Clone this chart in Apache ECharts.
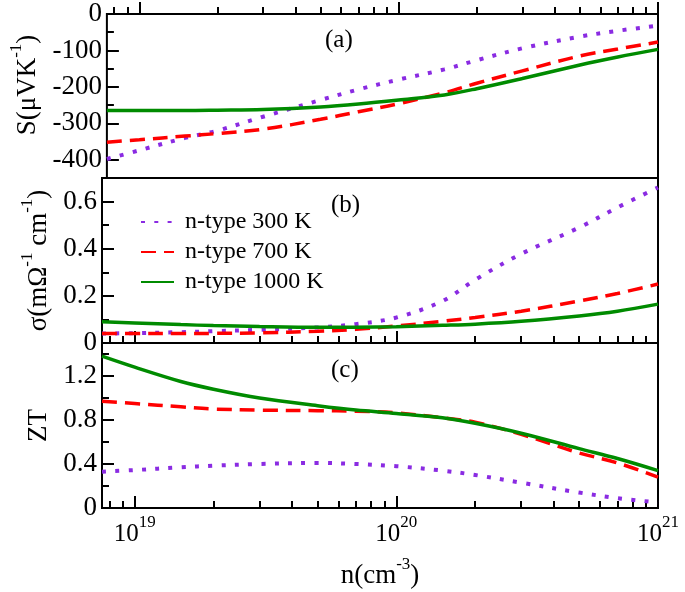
<!DOCTYPE html>
<html>
<head>
<meta charset="utf-8">
<script src="https://cdn.jsdelivr.net/npm/echarts@6/dist/echarts.min.js"></script>
<style>html,body{margin:0;padding:0;background:#fff}#c{width:685px;height:592px}</style>
</head>
<body>
<div id="c"></div>
<script>
// carrier concentration n (cm^-3)
const nValues = [7.5e18, 1e19, 1.5e19, 2e19, 3e19, 5e19, 7e19, 1e20, 1.5e20, 2e20, 3e20, 5e20, 7e20, 1e21];
const seriesNames = ['n-type 300 K', 'n-type 700 K', 'n-type 1000 K'];
// (a) Seebeck coefficient S (uV/K)
const S300  = [-398, -374, -340, -320, -282, -236, -207, -180, -152, -127, -94, -62, -46, -32];
const S700  = [-352, -345, -335, -328, -316, -289, -268, -246, -216, -190, -156, -115, -96, -77];
const S1000 = [-265, -265, -265, -264, -262, -255, -247, -236, -222, -205, -177, -140, -118, -97];
// (b) electrical conductivity sigma
const sig300  = [0.040, 0.042, 0.046, 0.050, 0.056, 0.066, 0.080, 0.108, 0.178, 0.268, 0.378, 0.490, 0.575, 0.660];
const sig700  = [0.040, 0.040, 0.040, 0.041, 0.043, 0.050, 0.058, 0.072, 0.092, 0.108, 0.135, 0.178, 0.210, 0.250];
const sig1000 = [0.090, 0.085, 0.078, 0.074, 0.070, 0.067, 0.067, 0.069, 0.075, 0.080, 0.092, 0.115, 0.135, 0.165];
// (c) figure of merit ZT
const ZT300  = [0.33, 0.345, 0.37, 0.385, 0.40, 0.41, 0.40, 0.38, 0.34, 0.30, 0.23, 0.14, 0.09, 0.05];
const ZT700  = [0.97, 0.95, 0.92, 0.90, 0.89, 0.885, 0.88, 0.865, 0.82, 0.78, 0.67, 0.50, 0.41, 0.28];
const ZT1000 = [1.38, 1.28, 1.15, 1.08, 1.00, 0.93, 0.89, 0.86, 0.82, 0.77, 0.68, 0.54, 0.45, 0.34];

// axis ranges and ticks
const xRange = [7.5e18, 1e21];
const xMajorTicks = [1e19, 1e20, 1e21];
const xMinorTicks = [8e18, 9e18, 2e19, 3e19, 4e19, 5e19, 6e19, 7e19, 8e19, 9e19, 2e20, 3e20, 4e20, 5e20, 6e20, 7e20, 8e20, 9e20];
const yRangeA = [-450, 0], yMajorA = [-400, -300, -200, -100, 0], yMinorA = [-350, -250, -150, -50];
const yRangeB = [0, 0.7],  yMajorB = [0, 0.2, 0.4, 0.6],         yMinorB = [0.1, 0.3, 0.5];
const yRangeC = [0, 1.5],  yMajorC = [0, 0.4, 0.8, 1.2],         yMinorC = [0.2, 0.6, 1.0, 1.4];

const FONT = 'Liberation Serif';
const colors = ['#8a2be2', '#ff0000', '#008b00'];
const lineStyles = [
  {width: 4, type: [4, 9.3], cap: 'butt'},
  {width: 3.5, type: [15, 8], cap: 'butt'},
  {width: 3.5, type: 'solid'}
];
const lg = Math.log10;

const grids = [
  {left: 102, top: 14, width: 556, height: 164},
  {left: 102, top: 178, width: 556, height: 165},
  {left: 102, top: 343, width: 556, height: 165}
].map(g => Object.assign(g, {show: true, borderColor: '#000', borderWidth: 2, backgroundColor: 'transparent'}));

const richTick = {
  b: {fontFamily: FONT, fontSize: 25, lineHeight: 40, color: '#000'},
  s: {fontFamily: FONT, fontSize: 17, lineHeight: 14, verticalAlign: 'top', color: '#000'}
};
const richTitle = {
  b: {fontFamily: FONT, fontSize: 27, lineHeight: 40, color: '#000'},
  s: {fontFamily: FONT, fontSize: 17, lineHeight: 14, verticalAlign: 'top', color: '#000'}
};

const xAxes = [], yAxes = [];
for (let i = 0; i < 3; i++) {
  const isBottom = i === 2;
  xAxes.push({
    type: 'value', gridIndex: i, position: 'bottom', min: lg(xRange[0]), max: lg(xRange[1]),
    axisLine: {show: false}, splitLine: {show: false},
    axisTick: {show: true, inside: true, length: 12, lineStyle: {width: 2, color: '#000'}, customValues: xMajorTicks.map(lg)},
    axisLabel: {show: isBottom, margin: 6, customValues: xMajorTicks.map(lg),
      formatter: v => '{b|10}{s|' + Math.round(v) + '}', rich: richTick},
    name: isBottom ? '{b|n(cm}{s|-3}{b|)}' : '', nameLocation: 'middle', nameGap: 48,
    nameTextStyle: {rich: richTitle}
  });
  xAxes.push({
    type: 'value', gridIndex: i, position: 'bottom', min: lg(xRange[0]), max: lg(xRange[1]),
    axisLine: {show: false}, splitLine: {show: false}, axisLabel: {show: false},
    axisTick: {show: true, inside: true, length: 7, lineStyle: {width: 2, color: '#000'}, customValues: xMinorTicks.map(lg)}
  });
}
const yDefs = [
  [yRangeA, yMajorA, yMinorA, '{b|S(μVK}{s|-1}{b|)}', 57, [0, 0, 0, 22]],
  [yRangeB, yMajorB, yMinorB, '{b|σ(mΩ}{s|-1}{b| cm}{s|-1}{b|)}', 41, [0, 0, 0, 0]],
  [yRangeC, yMajorC, yMinorC, '{b|ZT}', 36, [0, 0, 0, 0]]
];
yDefs.forEach((d, i) => {
  yAxes.push({
    type: 'value', gridIndex: i, position: 'left', min: d[0][0], max: d[0][1],
    axisLine: {show: false}, splitLine: {show: false},
    axisTick: {show: true, inside: true, length: 12, lineStyle: {width: 2, color: '#000'}, customValues: d[1]},
    axisLabel: {show: true, margin: 5, customValues: d[1], fontFamily: FONT, fontSize: 27, color: '#000',
      formatter: v => String(v)},
    name: d[3], nameLocation: 'middle', nameGap: d[4],
    nameTextStyle: {rich: richTitle, padding: d[5]}
  });
  yAxes.push({
    type: 'value', gridIndex: i, position: 'left', min: d[0][0], max: d[0][1],
    axisLine: {show: false}, splitLine: {show: false}, axisLabel: {show: false},
    axisTick: {show: true, inside: true, length: 7, lineStyle: {width: 2, color: '#000'}, customValues: d[2]}
  });
});

const panelData = [[S300, S700, S1000], [sig300, sig700, sig1000], [ZT300, ZT700, ZT1000]];
const series = [];
panelData.forEach((set, p) => {
  set.forEach((vals, k) => {
    series.push({
      type: 'line', name: seriesNames[k], xAxisIndex: 2 * p, yAxisIndex: 2 * p,
      data: nValues.map((n, j) => [lg(n), vals[j]]),
      smooth: 0.35, symbol: 'none', showSymbol: false, clip: true,
      lineStyle: Object.assign({color: colors[k]}, lineStyles[k]),
      itemStyle: {color: colors[k]}, color: colors[k],
      emphasis: {disabled: true}, z: 2 + k
    });
  });
});

const chart = echarts.init(document.getElementById('c'), null, {renderer: 'canvas'});
chart.setOption({
  animation: false,
  backgroundColor: '#fff',
  grid: grids,
  xAxis: xAxes,
  yAxis: yAxes,
  legend: {
    data: seriesNames, orient: 'vertical', left: 135, top: 205, itemWidth: 33, itemHeight: 14, itemGap: 6,
    itemStyle: {opacity: 0},
    textStyle: {fontFamily: FONT, fontSize: 24, color: '#000', padding: [0, 0, 0, 6]},
    inactiveColor: '#ccc'
  },
  graphic: [
    {type: 'text', left: 325, top: 28, style: {text: '(a)', fontFamily: FONT, fontSize: 25, fill: '#000'}},
    {type: 'text', left: 331, top: 193, style: {text: '(b)', fontFamily: FONT, fontSize: 25, fill: '#000'}},
    {type: 'text', left: 331, top: 358, style: {text: '(c)', fontFamily: FONT, fontSize: 25, fill: '#000'}}
  ],
  series: series
});
</script>
</body>
</html>
